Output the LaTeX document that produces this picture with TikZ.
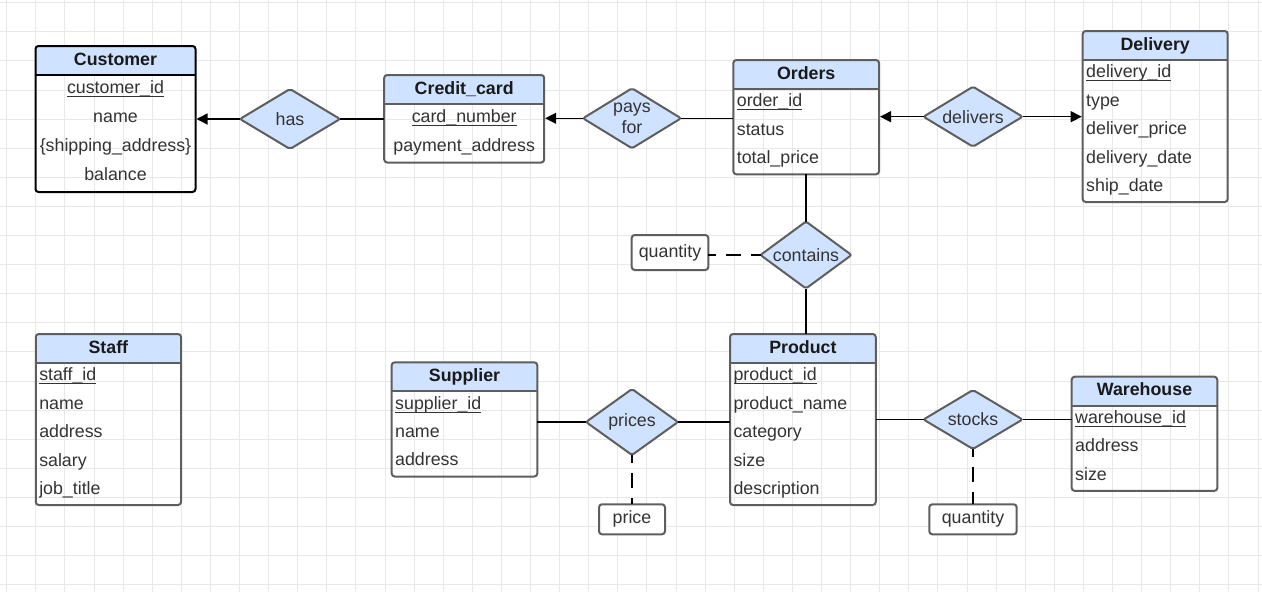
\documentclass[tikz,border=0pt]{standalone}
\usepackage{fontspec}
\setmainfont{Liberation Sans}
\usetikzlibrary{shapes.geometric,arrows.meta,positioning}
\definecolor{headblue}{HTML}{CFE2FF}
\definecolor{edgegray}{HTML}{5E5E5E}
\definecolor{txtgray}{HTML}{333333}
\definecolor{titleblack}{HTML}{1A1A1A}
\definecolor{gridgray}{HTML}{E8E8E8}
% key attribute: underlined through the underscores
\newcommand{\keyattr}[1]{\setbox0\hbox{#1}\rlap{\rule[-3.6pt]{\wd0}{1.2pt}}\box0}
% one attribute row, fixed pitch
\newcommand{\rowst}{\rule[-10.6pt]{0pt}{28.4pt}}
\tikzset{
  % Entity header: bold name on blue
  ehead/.style={fill=headblue, inner sep=0pt, outer sep=0pt, minimum height=29pt,
                text height=12.7pt, text depth=3.7pt, text=titleblack,
                font=\fontsize{17.8}{28.4}\selectfont\bfseries},
  % Entity body: attribute rows
  ebody/.style={inner xsep=3.5pt, inner ysep=0pt, outer sep=0pt, align=left, text=txtgray},
  ebody-wide/.style={ebody, align=center, font=\fontsize{17.8}{29}\selectfont},
  % Entity outline and header rule
  eframe/.style={draw=edgegray, line width=2pt, rounded corners=3pt},
  % Relationship diamond
  rel/.style={diamond, shape aspect=1.6, draw=edgegray, line width=2pt, fill=headblue,
              rounded corners=2pt, inner sep=0pt, outer sep=0pt, text=txtgray},
  % Relationship attribute box
  attrbox/.style={draw=edgegray, line width=2pt, rounded corners=3pt, fill=white,
                  inner sep=0pt, outer sep=0pt, text=txtgray},
  % Connectors
  link/.style={line width=1.3pt},
  linkarr/.style={link, -{Triangle[length=11pt, width=11pt]}, shorten >=1pt},
  linkdash/.style={link, dash pattern=on 15pt off 10pt, dash phase=7pt},
  gridln/.style={draw=gridgray, line width=0.9pt}
}

\begin{document}
\begin{tikzpicture}[x=1pt, y=-1pt, font=\fontsize{17.8}{28.4}\selectfont]

% ============== Canvas and grid ==============
\fill[white] (0,0) rectangle (1262,592);
\useasboundingbox (0,0) rectangle (1262,592);
\foreach \i in {0,...,43}
  \draw[gridln] (6.7+29.1*\i,0) -- (6.7+29.1*\i,592);
\foreach \j in {0,...,20}
  \draw[gridln] (0,2.7+29.1*\j) -- (1262,2.7+29.1*\j);

% ============== Entities, top row ==============
\node[ehead, minimum width=160pt] (cust) at (115.5,60.5) {Customer};
\node[ebody-wide, below=0pt of cust, text width=153pt, minimum height=117pt] (cust-b)
  {\rowst\keyattr{customer\_id}\\\rowst name\\\rowst\{shipping\_address\}\\\rowst balance};

\node[ehead, minimum width=160pt] (cc) at (464.2,89.5) {Credit\_card};
\node[ebody-wide, below=0pt of cc, text width=153pt, minimum height=58.5pt] (cc-b)
  {\rowst\keyattr{card\_number}\\\rowst payment\_address};

\node[ehead, minimum width=145.7pt] (ord) at (806.2,74.5) {Orders};
\node[ebody, below=0pt of ord, text width=138.7pt, minimum height=85.3pt] (ord-b)
  {\rowst\keyattr{order\_id}\\\rowst status\\\rowst total\_price};

\node[ehead, minimum width=145pt] (del) at (1155.2,45.5) {Delivery};
\node[ebody, below=0pt of del, text width=138pt, minimum height=142pt] (del-b)
  {\rowst\keyattr{delivery\_id}\\\rowst type\\\rowst deliver\_price\\\rowst delivery\_date\\\rowst ship\_date};

% ============== Entities, bottom row ==============
\node[ehead, minimum width=145.3pt] (staff) at (108.4,348.5) {Staff};
\node[ebody, below=0pt of staff, text width=138.3pt, minimum height=141.6pt] (staff-b)
  {\rowst\keyattr{staff\_id}\\\rowst name\\\rowst address\\\rowst salary\\\rowst job\_title};

\node[ehead, minimum width=145.6pt] (sup) at (464.5,376.8) {Supplier};
\node[ebody, below=0pt of sup, text width=138.6pt, minimum height=85pt] (sup-b)
  {\rowst\keyattr{supplier\_id}\\\rowst name\\\rowst address};

\node[ehead, minimum width=145.7pt] (prod) at (802.9,348.5) {Product};
\node[ebody, below=0pt of prod, text width=138.7pt, minimum height=141.6pt] (prod-b)
  {\rowst\keyattr{product\_id}\\\rowst product\_name\\\rowst category\\\rowst size\\\rowst description};

\node[ehead, minimum width=145.6pt] (wh) at (1144.5,391.2) {Warehouse};
\node[ebody, below=0pt of wh, text width=138.6pt, minimum height=85pt] (wh-b)
  {\rowst\keyattr{warehouse\_id}\\\rowst address\\\rowst size};

% outlines + header rules
\draw[eframe, draw=black] (cust.north west) rectangle (cust-b.south east);
\draw[eframe, draw=black] (cust.south west) -- (cust.south east);
\foreach \e in {cc,ord,del,staff,sup,prod,wh} {
  \draw[eframe] (\e.north west) rectangle (\e-b.south east);
  \draw[eframe] (\e.south west) -- (\e.south east);
}

% ============== Relationships ==============
\node[rel, minimum width=100pt, minimum height=60pt] (has) at (290,119) {has};
\node[rel, minimum width=98pt, minimum height=60pt, align=center,
      font=\fontsize{17.8}{21}\selectfont] (pay) at (632,118.3) {pays\\for};
\node[rel, minimum width=99pt, minimum height=60pt] (dlv) at (973,116.7) {delivers};
\node[rel, minimum width=91pt, minimum height=67pt] (con) at (806,255) {contains};
\node[rel, minimum width=92pt, minimum height=66pt] (pri) at (632,422) {prices};
\node[rel, minimum width=99pt, minimum height=59pt] (stk) at (973,419.5) {stocks};

% relationship attributes
\node[attrbox, minimum width=76.6pt, minimum height=35pt] (qty-c) at (670,252.5) {quantity};
\node[attrbox, minimum width=66pt, minimum height=30pt] (price) at (632,519.3) {price};
\node[attrbox, minimum width=87.4pt, minimum height=30pt] (qty-s) at (973,519.3) {quantity};

% ============== Connectors ==============
\draw[linkarr] (has.west) -- (has.west -| cust-b.east);
\draw[link] (has.east) -- (has.east -| cc-b.west);
\draw[linkarr] (pay.west) -- (pay.west -| cc-b.east);
\draw[link] (pay.east) -- (pay.east -| ord-b.west);
\draw[linkarr] (dlv.west) -- (dlv.west -| ord-b.east);
\draw[linkarr] (dlv.east) -- (dlv.east -| del-b.west);

\draw[link] (con.north |- ord-b.south) -- (con.north);
\draw[link] (con.south) -- (con.south |- prod.north);
\draw[linkdash] (con.west -| qty-c.east) -- (con.west);

\draw[link] (pri.west -| sup-b.east) -- (pri.west);
\draw[link] (pri.east) -- (pri.east -| prod-b.west);
\draw[linkdash] (pri.south) -- (price.north);

\draw[link] (stk.west -| prod-b.east) -- (stk.west);
\draw[link] (stk.east) -- (stk.east -| wh-b.west);
\draw[linkdash] (stk.south) -- (qty-s.north);

\end{tikzpicture}
\end{document}
